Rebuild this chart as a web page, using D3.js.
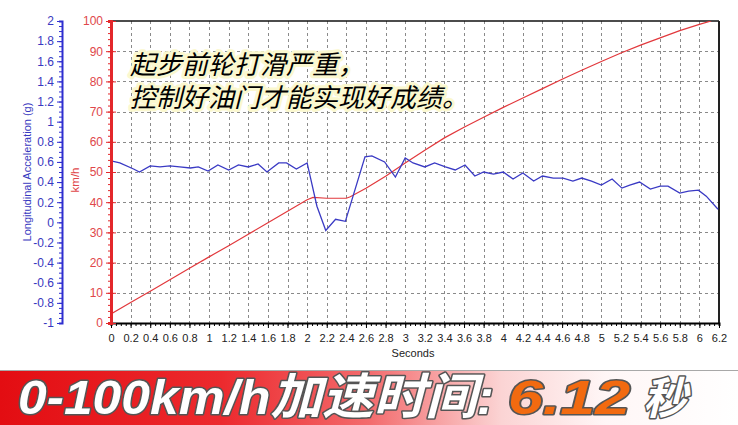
<!DOCTYPE html>
<html><head><meta charset="utf-8">
<script src="https://cdn.jsdelivr.net/npm/d3@7/dist/d3.min.js"></script>
<style>html,body{margin:0;padding:0;background:#fff;}svg{display:block;}</style>
</head><body>
<svg id="c" width="738" height="425"></svg>
<script>
// ---- data ----
const speedTime = [0,0.2,0.4,0.6,0.8,1.0,1.2,1.4,1.6,1.8,2.0,2.06,2.2,2.4,2.44,2.6,2.8,3.0,3.2,3.4,3.6,3.8,4.0,4.2,4.4,4.6,4.8,5.0,5.2,5.4,5.6,5.8,6.0,6.12];
const speedKmh  = [3,6.8,10.5,14.3,18.1,21.9,25.6,29.4,33.2,37,40.8,41.6,41.3,41.3,41.8,44.6,48.6,53,57.2,61.3,64.8,68.1,71.4,74.5,77.6,80.7,83.7,86.6,89.4,92,94.4,96.8,98.9,100];
const accTime = [0,0.09,0.23,0.29,0.40,0.50,0.60,0.70,0.81,0.89,0.99,1.09,1.20,1.30,1.40,1.50,1.59,1.71,1.79,1.89,2.00,2.10,2.19,2.29,2.39,2.59,2.66,2.79,2.90,3.00,3.08,3.20,3.30,3.41,3.51,3.61,3.71,3.80,3.90,4.00,4.10,4.20,4.31,4.40,4.51,4.61,4.71,4.80,4.90,5.00,5.11,5.21,5.29,5.39,5.50,5.60,5.68,5.80,5.89,5.99,6.07,6.19];
const accG    = [0.61,0.59,0.53,0.50,0.56,0.55,0.56,0.55,0.54,0.55,0.51,0.57,0.52,0.57,0.55,0.58,0.50,0.59,0.59,0.53,0.59,0.16,-0.08,0.03,0.01,0.65,0.66,0.60,0.45,0.64,0.59,0.55,0.59,0.55,0.52,0.57,0.46,0.50,0.48,0.50,0.43,0.49,0.41,0.46,0.44,0.44,0.41,0.44,0.41,0.37,0.43,0.34,0.37,0.40,0.33,0.36,0.36,0.29,0.31,0.32,0.26,0.13];
const xTicks = d3.range(0, 6.2001, 0.2).map(v => +v.toFixed(1));
const speedTicks = [0,10,20,30,40,50,60,70,80,90,100];
const accTicks = d3.range(-1, 2.0001, 0.2).map(v => +v.toFixed(1));
const annotation = ["起步前轮打滑严重，", "控制好油门才能实现好成绩。"];
const bannerParts = ["0-100km/h加速时间:", "6.12", "秒"];

// ---- layout ----
const L = 111, R = 719, T = 21, B = 323;
const svg = d3.select("#c");
const x = d3.scaleLinear().domain([0, 6.2]).range([L, R]);
const yS = d3.scaleLinear().domain([0, 100]).range([B, T]);
const yA = d3.scaleLinear().domain([-1, 2]).range([B, T]);
const fmt = v => String(+(+v).toFixed(1));

// grid
const grid = svg.append("g").attr("stroke", "#8a8a8a").attr("stroke-width", 1).attr("stroke-dasharray", "3,3");
grid.selectAll("line.h").data(speedTicks.filter(v => v > 0 && v < 100)).join("line")
  .attr("x1", L).attr("x2", R).attr("y1", d => Math.round(yS(d)) + 0.5).attr("y2", d => Math.round(yS(d)) + 0.5);
grid.selectAll("line.v").data(xTicks.filter(v => v > 0 && v < 6.2)).join("line")
  .attr("y1", T).attr("y2", B).attr("x1", d => Math.round(x(d)) + 0.5).attr("x2", d => Math.round(x(d)) + 0.5);

// borders
svg.append("line").attr("x1", L).attr("x2", R).attr("y1", T).attr("y2", T).attr("stroke", "#111").attr("stroke-width", 1.5);
svg.append("line").attr("x1", R).attr("x2", R).attr("y1", T).attr("y2", B).attr("stroke", "#222").attr("stroke-width", 2);

// clip
svg.append("clipPath").attr("id", "pc").append("rect").attr("x", L).attr("y", T).attr("width", R - L).attr("height", B - T);

// speed line
svg.append("path").attr("clip-path", "url(#pc)")
  .datum(speedTime.map((t, i) => [t, speedKmh[i]]))
  .attr("fill", "none").attr("stroke", "#e2383c").attr("stroke-width", 1.2)
  .attr("d", d3.line().x(d => x(d[0])).y(d => yS(d[1])));
// acceleration line
svg.append("path").attr("clip-path", "url(#pc)")
  .datum(accTime.map((t, i) => [t, accG[i]]))
  .attr("fill", "none").attr("stroke", "#3a3ac4").attr("stroke-width", 1.3)
  .attr("d", d3.line().x(d => x(d[0])).y(d => yA(d[1])));

// x axis
const xAx = svg.append("g").attr("transform", `translate(0,${B})`)
  .call(d3.axisBottom(x).tickValues(d3.range(0, 6.2001, 0.05)).tickSize(3).tickFormat(""));
xAx.select(".domain").attr("stroke", "#000").attr("stroke-width", 2);
xAx.selectAll(".tick line").attr("stroke", "#000");
const xAx2 = svg.append("g").attr("transform", `translate(0,${B})`)
  .call(d3.axisBottom(x).tickValues(xTicks).tickSize(5).tickPadding(6).tickFormat(fmt));
xAx2.select(".domain").remove();
xAx2.selectAll(".tick line").attr("stroke", "#000");
xAx2.selectAll("text").attr("font-family", "Liberation Sans, Arial, sans-serif").attr("font-size", 11).attr("fill", "#222");
svg.append("text").attr("x", 413).attr("y", 357).attr("text-anchor", "middle")
  .attr("font-family", "Liberation Sans, Arial, sans-serif").attr("font-size", 11).attr("fill", "#222").text("Seconds");

// red speed axis
const red = "#e3272b";
const sAxMinor = svg.append("g").attr("transform", `translate(${L},0)`)
  .call(d3.axisLeft(yS).tickValues(d3.range(0, 100.01, 2)).tickSize(3).tickFormat(""));
sAxMinor.select(".domain").attr("stroke", red).attr("stroke-width", 3);
sAxMinor.selectAll(".tick line").attr("stroke", red);
const sAx = svg.append("g").attr("transform", `translate(${L},0)`)
  .call(d3.axisLeft(yS).tickValues(speedTicks).tickSizeInner(5).tickSizeOuter(0).tickPadding(3).tickFormat(fmt));
sAx.select(".domain").remove();
sAx.selectAll(".tick line").attr("stroke", red).attr("x2", -5).attr("x1", 5);
sAx.selectAll("text").attr("x", -8).attr("font-family", "Liberation Sans, Arial, sans-serif").attr("font-size", 12).attr("fill", "#e0474a");
svg.append("text").attr("transform", "translate(79,180) rotate(-90)").attr("text-anchor", "middle")
  .attr("font-family", "Liberation Sans, Arial, sans-serif").attr("font-size", 11.5).attr("fill", "#e0474a").text("km/h");

// blue acceleration axis
const blue = "#2e2ed0";
const AX = 62;
const aAxMinor = svg.append("g").attr("transform", `translate(${AX},0)`)
  .call(d3.axisLeft(yA).tickValues(d3.range(-1, 2.001, 0.05)).tickSize(3).tickFormat(""));
aAxMinor.select(".domain").attr("stroke", blue).attr("stroke-width", 2);
aAxMinor.selectAll(".tick line").attr("stroke", blue);
const aAx = svg.append("g").attr("transform", `translate(${AX},0)`)
  .call(d3.axisLeft(yA).tickValues(accTicks).tickSizeInner(5).tickSizeOuter(0).tickPadding(3).tickFormat(fmt));
aAx.select(".domain").remove();
aAx.selectAll(".tick line").attr("stroke", blue);
aAx.selectAll("text").attr("font-family", "Liberation Sans, Arial, sans-serif").attr("font-size", 12).attr("fill", "#3838c0");
svg.append("text").attr("transform", "translate(31,172) rotate(-90)").attr("text-anchor", "middle")
  .attr("font-family", "Liberation Sans, Arial, sans-serif").attr("font-size", 11).attr("fill", "#3838c0").text("Longitudinal Acceleration (g)");

// annotation (one text element, two lines)
const ann = svg.append("text").attr("font-family", "Noto Sans CJK SC, sans-serif").attr("font-size", 26).attr("font-style", "italic")
  .attr("fill", "#000").attr("stroke", "#fbf8cf").attr("stroke-width", 6).attr("stroke-linejoin", "round")
  .attr("paint-order", "stroke");
ann.selectAll("tspan").data(annotation).join("tspan")
  .attr("x", 130).attr("y", (d, i) => 74 + i * 33).text(d => d);

// banner
const defs = svg.append("defs");
const lg = defs.append("linearGradient").attr("id", "bg").attr("x1", 0).attr("x2", 1).attr("y1", 0).attr("y2", 0);
[[0, "#e30d12"], [0.3, "#ec2a2e"], [0.5, "#f36b6d"], [0.68, "#fbd4d4"], [0.82, "#fff6f6"], [1, "#ffffff"]]
  .forEach(s => lg.append("stop").attr("offset", s[0]).attr("stop-color", s[1]));
svg.append("rect").attr("x", 0).attr("y", 371).attr("width", 738).attr("height", 54).attr("fill", "url(#bg)");
svg.append("line").attr("x1", 0).attr("x2", 738).attr("y1", 370.5).attr("y2", 370.5).attr("stroke", "#a8a8a8").attr("stroke-width", 1);
const bf = "Liberation Sans, Arial, Noto Sans CJK SC, sans-serif";
const bt = svg.append("g").attr("font-family", bf).attr("font-weight", "bold").attr("font-style", "italic")
  .attr("font-size", 49).attr("stroke", "#555").attr("stroke-width", 3).attr("stroke-linejoin", "round").attr("paint-order", "stroke");
bt.append("text").attr("x", 18).attr("y", 414).attr("fill", "#fff").attr("textLength", 476).attr("lengthAdjust", "spacingAndGlyphs").text(bannerParts[0]);
bt.append("text").attr("x", 508).attr("y", 414).attr("fill", "#f26a10").attr("textLength", 122).attr("lengthAdjust", "spacingAndGlyphs").text(bannerParts[1]);
bt.append("text").attr("x", 643).attr("y", 414).attr("fill", "#fff").attr("font-size", 44).text(bannerParts[2]);
</script>
</body></html>
